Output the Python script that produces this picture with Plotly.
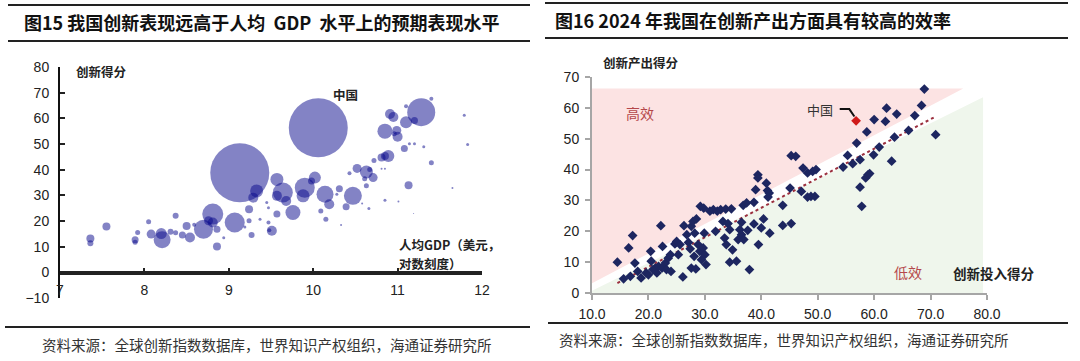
import plotly.graph_objects as go

W, H = 1080, 361

# ---------------- Left chart data (Fig 15) ----------------
gdp_log = [7.36, 7.36, 7.55, 7.89, 7.89, 7.92, 8.05, 8.08, 8.20, 8.21, 8.31, 8.37, 8.37, 8.45, 8.50,
           8.54, 8.59, 8.70, 8.81, 8.76, 8.81, 8.86, 8.86, 8.94, 9.07, 9.13, 9.19, 9.24, 9.24, 9.27,
           9.29, 9.33, 9.37, 9.45, 9.47, 9.47, 9.48,
           9.57, 9.64, 9.68, 9.57, 9.57, 9.51, 9.76, 9.90, 10.02, 9.88, 9.98, 10.14, 10.19, 10.09,
           10.15, 10.31, 10.28, 10.39, 10.47, 10.33, 10.43, 10.52, 10.63, 10.71, 10.61, 10.67, 10.63,
           10.58, 10.66, 10.72, 10.81, 10.89, 10.85, 10.81, 10.85, 10.85, 11.01, 10.91, 10.95, 10.85,
           10.99, 11.00, 10.96, 11.10, 11.10, 11.20, 11.28, 11.40, 11.08, 11.14, 11.20, 11.31, 11.40,
           11.13, 11.65, 11.79, 11.83, 11.19, 10.06]
innov_score = [13.2, 11.3, 17.9, 12.7, 11.7, 15.5, 19.7, 14.9, 15.1, 12.7, 15.8, 22.0, 15.4, 14.5, 18.1,
               13.6, 18.5, 16.8, 22.7, 20.1, 19.4, 16.8, 10.1, 13.5, 19.4, 38.8, 17.7, 20.1, 24.6, 14.5,
               29.1, 31.7, 20.7, 27.2, 25.2, 19.4, 16.4,
               36.2, 31.1, 27.8, 29.8, 22.7, 16.2, 23.3, 33.0, 36.9, 29.8, 35.6, 30.4, 26.5, 23.9,
               20.7, 32.6, 30.4, 25.6, 29.8, 18.4, 38.6, 40.5, 39.1, 36.9, 36.5, 40.1, 33.7,
               26.8, 24.9, 43.6, 44.7, 45.3, 45.3, 40.4, 40.4, 28.1, 27.6, 61.7, 60.5, 55.0,
               55.3, 52.8, 54.0, 58.5, 64.7, 59.2, 62.4, 67.6, 48.2, 50.1, 50.1, 48.9, 42.7,
               33.9, 32.9, 61.2, 49.8, 22.9, 56.3]
bubble_size = [8, 6, 8, 7, 5, 5, 5, 9, 11, 17, 6, 6, 5, 7, 8,
               10, 4, 19, 21, 9, 10, 7, 8, 3, 20, 59, 3, 5, 8, 6,
               10, 13, 3, 3, 3, 4, 4,
               13, 20, 10, 10, 7, 10, 15, 20, 12, 13, 7, 17, 10, 5,
               5, 7, 3, 7, 18, 2, 4, 9, 13, 9, 5, 5, 5,
               2, 3, 5, 8, 12, 8, 2, 2, 3, 2, 10, 10, 15,
               9, 10, 5, 12, 4, 7, 28, 4, 7, 3, 3, 3, 5,
               8, 2, 3, 3, 1, 59]
left_xticks = [7, 8, 9, 10, 11, 12]
left_yticks = [-10, 0, 10, 20, 30, 40, 50, 60, 70, 80]

# ---------------- Right chart data (Fig 16) ----------------
input_score = [14.5, 15.6, 16.8, 16.5, 17.2, 17.6, 18.1, 18.7, 19.6, 20.0, 20.4, 20.5, 20.8, 21.2, 21.5,
               21.8, 22.2, 22.5, 22.4, 23.0, 23.2, 23.5, 23.9, 24.0, 24.7, 25.0, 25.3, 25.6, 26.1, 26.3,
               26.8, 27.1, 27.4, 27.6, 27.6, 27.9, 28.2, 28.5, 28.1, 28.4, 28.8, 29.1, 29.2, 29.4, 29.7,
               29.8, 29.9, 30.0, 30.2, 30.9, 31.5, 31.9, 32.2, 32.8, 33.2, 33.5, 33.7, 33.8, 34.1, 34.4,
               34.4, 34.7, 34.9, 35.6, 35.9, 36.2, 36.5, 36.5, 36.8, 36.9, 37.4, 37.6, 37.9, 38.7, 38.7,
               39.0, 39.4, 39.4, 39.5, 40.0, 40.4, 40.9, 41.1, 41.2, 41.4, 41.5, 43.8, 43.8, 45.1, 45.3,
               45.3, 46.1, 47.1, 47.4, 48.2, 48.2, 49.1, 49.7, 48.8, 49.5,
               54.5, 55.3, 56.2, 56.9, 57.5, 57.5, 57.8, 58.5, 58.7, 58.9, 59.2, 59.9, 60.0, 60.9, 62.0,
               62.2, 63.1, 63.6, 64.0, 66.1, 67.2, 68.4, 68.9, 70.9]
output_score = [10.0, 4.6, 5.4, 14.6, 18.6, 9.7, 7.0, 4.9, 6.5, 5.9, 13.5, 10.3, 7.6, 8.1, 6.5,
                8.6, 21.8, 15.1, 8.1, 9.7, 7.6, 11.3, 12.4, 7.0, 15.9, 16.7, 12.4, 15.7, 5.2, 21.8,
                18.9, 16.4, 14.3, 21.6, 8.1, 23.2, 19.4, 24.0, 11.9, 7.8, 15.7, 13.5, 28.1, 10.8, 14.6,
                27.5, 19.4, 12.4, 9.2, 26.5, 27.0, 20.0, 26.5, 27.0, 23.2, 17.8, 27.2, 15.7, 22.5, 20.5,
                10.0, 27.3, 14.0, 10.3, 17.3, 20.5, 22.9, 18.9, 28.4, 17.3, 29.2, 20.3, 7.6, 29.4, 22.4,
                33.5, 38.3, 37.3, 15.7, 21.1, 24.0, 35.6, 33.2, 31.1, 32.4, 19.4, 28.4, 21.9, 34.0, 22.5,
                44.5, 44.3, 32.9, 40.5, 38.9, 31.1, 39.4, 40.0, 31.3, 31.3,
                40.8, 44.6, 41.9, 48.6, 43.2, 34.3, 28.1, 37.3, 52.2, 38.3, 38.7, 44.8, 56.2, 47.3, 55.6,
                59.9, 42.7, 50.5, 58.0, 52.7, 57.5, 60.8, 66.1, 51.3]
china_input = [56.8]
china_output = [55.8]
trend_x = [14.5, 70.6]
trend_y = [3.2, 56.9]
right_xticks = [10, 20, 30, 40, 50, 60, 70, 80]
right_yticks = [0, 10, 20, 30, 40, 50, 60, 70]

source_text = "资料来源：全球创新指数数据库，世界知识产权组织，海通证券研究所"
title_left = "图15 我国创新表现远高于人均  GDP  水平上的预期表现水平"
title_right = "图16 2024 年我国在创新产出方面具有较高的效率"

CJK = "Noto Sans CJK SC"
SANS = "Liberation Sans, Arial, sans-serif"
NARROW = "Liberation Sans Narrow, Arial Narrow, Liberation Sans, sans-serif"


def px(x, y):
    return x / W, 1 - y / H


fig = go.Figure()

# Left bubbles on a plain x / y pair (y from -10 to 80)
fig.add_trace(go.Scatter(
    x=gdp_log, y=innov_score, mode="markers", xaxis="x", yaxis="y",
    marker=dict(size=bubble_size, sizemode="diameter", sizeref=1,
                color="rgba(10,10,140,0.72)", line=dict(width=0)),
    hoverinfo="skip", showlegend=False))

# empty trace keeping the x3 / y3 pair alive (x3 = tick labels sitting on the zero line)
fig.add_trace(go.Scatter(x=[None], y=[None], mode="markers", xaxis="x3", yaxis="y3",
                         hoverinfo="skip", showlegend=False))

# Right trend line
fig.add_trace(go.Scatter(
    x=trend_x, y=trend_y, mode="lines", xaxis="x2", yaxis="y2",
    line=dict(color="#9b2f3e", width=2, dash="dot"),
    hoverinfo="skip", showlegend=False))

# Right diamonds
fig.add_trace(go.Scatter(
    x=input_score, y=output_score, mode="markers", xaxis="x2", yaxis="y2",
    marker=dict(symbol="diamond", size=7.5, color="#1d2660", line=dict(width=0)),
    hoverinfo="skip", showlegend=False))
fig.add_trace(go.Scatter(
    x=china_input, y=china_output, mode="markers", xaxis="x2", yaxis="y2",
    marker=dict(symbol="diamond", size=7.5, color="#d01a1a", line=dict(width=0)),
    hoverinfo="skip", showlegend=False))

# axes domains
lx0, lx1 = 60 / W, 482 / W
ly0, ly1 = 1 - 298 / H, 1 - 67 / H
lzero = 1 - 273 / H
rx0, rx1 = 592 / W, 987 / W
ry0, ry1 = 1 - 293 / H, 1 - 77 / H

AX = dict(showgrid=False)
HIDDEN = dict(showline=False, showticklabels=False, ticks="", showgrid=False, zeroline=False)
fig.update_layout(
    width=W, height=H, autosize=False,
    margin=dict(l=0, r=0, t=0, b=0, autoexpand=False),
    paper_bgcolor="white", plot_bgcolor="rgba(0,0,0,0)",
    showlegend=False,
    # left main pair: hidden x at the bottom, visible y axis with a zero line
    xaxis=dict(domain=[lx0, lx1], range=[7, 12], anchor="y", **HIDDEN),
    yaxis=dict(domain=[ly0, ly1], range=[-10, 80], tickvals=left_yticks, anchor="x",
               showline=True, linecolor="#111", linewidth=2,
               zeroline=True, zerolinecolor="#222", zerolinewidth=1.5,
               ticks="inside", ticklen=5, tickcolor="#222", tickwidth=1.5,
               tickfont=dict(family=SANS, size=14, color="#222"), ticklabelstandoff=6, **AX),
    # left helper pair: x3 labels/ticks on the zero line
    xaxis3=dict(domain=[lx0, lx1], range=[7, 12], tickvals=left_xticks, anchor="y3",
                showline=True, linecolor="#222", linewidth=1.5, zeroline=False,
                ticks="inside", ticklen=5, tickcolor="#222", tickwidth=1.5,
                tickfont=dict(family=SANS, size=14, color="#222"), ticklabelstandoff=3, **AX),
    yaxis3=dict(domain=[lzero, ly1], range=[0, 80], anchor="x3", **HIDDEN),
    xaxis2=dict(domain=[rx0, rx1], range=[10, 80], tickvals=right_xticks, tickformat=".1f",
                anchor="y2", showline=True, linecolor="#a6a6a6", linewidth=2, zeroline=False,
                ticks="outside", ticklen=5, tickcolor="#a6a6a6", tickwidth=1.5,
                tickfont=dict(family=NARROW, size=14, color="#222"), ticklabelstandoff=2, **AX),
    yaxis2=dict(domain=[ry0, ry1], range=[0, 70], tickvals=right_yticks,
                anchor="x2", showline=True, linecolor="#a6a6a6", linewidth=2, zeroline=False,
                ticks="outside", ticklen=5, tickcolor="#a6a6a6", tickwidth=1.5,
                tickfont=dict(family=SANS, size=14, color="#222"), ticklabelstandoff=3, **AX),
)

shapes = []
# background regions of right chart
shapes.append(dict(type="path", xref="x2", yref="y2", layer="below",
                   path="M 10,3.2 L 10,66.3 L 75.8,66.3 Z",
                   fillcolor="#fce3e3", line=dict(width=0)))
shapes.append(dict(type="path", xref="x2", yref="y2", layer="below",
                   path="M 10,0 L 10,0.7 L 79.3,63.4 L 79.3,0 Z",
                   fillcolor="#eff6ec", line=dict(width=0)))
# China arrow
shapes.append(dict(type="path", xref="x2", yref="y2",
                   path="M 53.9,59.6 L 55.6,59.6 L 56.5,57.2",
                   line=dict(color="#111", width=2)))

# horizontal rules
def hline(x0, x1, y, w):
    shapes.append(dict(type="line", xref="paper", yref="paper",
                       x0=x0 / W, x1=x1 / W, y0=1 - y / H, y1=1 - y / H,
                       line=dict(color="#222", width=w)))

hline(8, 530, 5, 2)
hline(8, 530, 41, 2)
hline(5, 530, 327, 2)
hline(545, 1068, 3, 2)
hline(545, 1068, 38, 2)
hline(548, 1068, 323, 2)

fig.update_layout(shapes=shapes)

ann = []

def text(x, y, s, size, color="#222", family=CJK, xanchor="center", weight="normal"):
    ax, ay = px(x, y)
    ann.append(dict(x=ax, y=ay, xref="paper", yref="paper", text=s, showarrow=False,
                    xanchor=xanchor, yanchor="middle",
                    font=dict(family=family, size=size, color=color, weight=weight)))

text(22, 22, title_left, 18, "#111", xanchor="left", weight="bold")
text(553, 20, title_right, 18, "#111", xanchor="left", weight="bold")
text(101, 71, "创新得分", 12.5, "#222", weight="bold")
text(345, 95, "中国", 12.5, "#222", weight="bold")
text(397, 245, "人均GDP（美元，", 12.5, "#222", xanchor="left", weight="bold")
text(397, 263, "对数刻度）", 12.5, "#222", xanchor="left", weight="bold")
text(641, 62, "创新产出得分", 12.5, "#222", weight="bold")
text(640, 113, "高效", 14, "#b5474a")
text(908, 272, "低效", 14, "#b5474a")
text(994, 273, "创新投入得分", 13.5, "#222", weight="bold")
text(820, 110, "中国", 13, "#333")
text(40, 344, source_text, 14.5, "#333", xanchor="left")
text(557, 339, source_text, 14.5, "#333", xanchor="left")

fig.update_layout(annotations=ann)

fig.write_html("out.html", config={"displayModeBar": False},
               post_script="document.body.style.margin='0';")
